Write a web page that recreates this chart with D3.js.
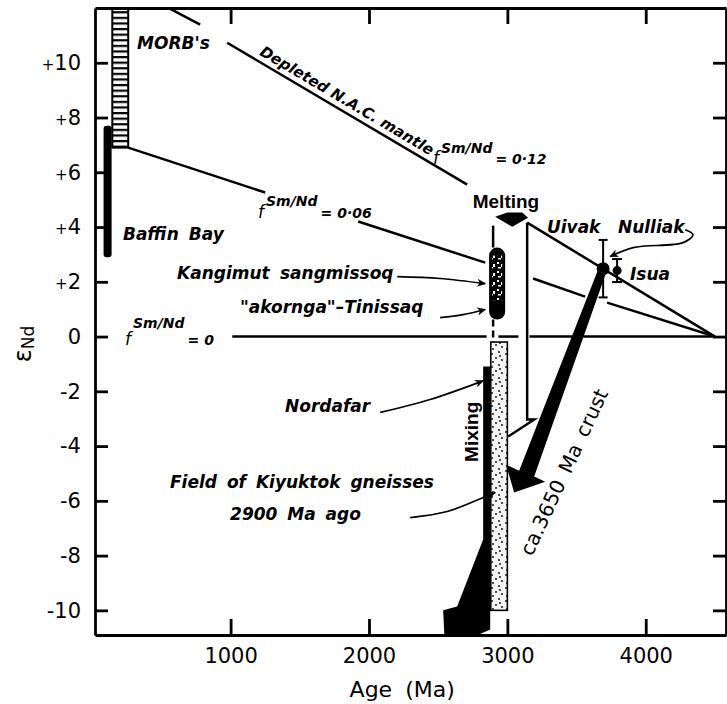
<!DOCTYPE html>
<html>
<head>
<meta charset="utf-8">
<script src="https://cdn.jsdelivr.net/npm/d3@7"></script>
<style>
  body { margin: 0; background: #fff; }
  svg { display: block; }
  .axis path, .axis line { stroke: #000; stroke-width: 2.8; }
  .axis text { font-family: "DejaVu Sans", sans-serif; font-size: 21px; fill: #000; }
  .lbl { font-family: "DejaVu Sans", sans-serif; font-style: oblique; font-weight: bold; font-size: 17px; fill: #000; }
  .upright { font-family: "Liberation Sans", sans-serif; font-weight: bold; font-size: 19px; fill: #000; }
  .evo { fill: none; stroke: #000; stroke-width: 2.5; }
  .leader { fill: none; stroke: #000; stroke-width: 1.7; }
</style>
</head>
<body>
<div id="chart"></div>
<script>
// ---- axis ticks ----
const ageTicks = [1000, 2000, 3000, 4000];
const ageTickLabels = ["1000", "2000", "3000", "4000"];
const endTicks = [10, 8, 6, 4, 2, 0, -2, -4, -6, -8, -10];
const endTickLabels = ["+10", "+8", "+6", "+4", "+2", "0", "-2", "-4", "-6", "-8", "-10"];

// ---- evolution lines, [age Ma, eNd], split where labels sit on them ----
const depletedMantle = [
    [[564, 11.97], [780, 11.39]],
    [[975, 10.73], [2710, 5.55]]
];
const smNd006 = [
    [[260, 6.9], [1250, 5.26]],
    [[1922, 4.2], [2840, 2.7]]
];
const smNd0 = [
    [[1012, 0], [2850, 0]],
    [[2935, 0], [3080, 0]],
    [[3160, 0], [4500, 0]]
];
const churUpper = [[[4500, 0], [3143, 4.16]]];
const churLower = [
    [[4500, 0], [3721, 1.24]],
    [[3562, 1.46], [3186, 2.12]]
];
const crustBracket = [[[3143, 4.16], [3143, -3.03], [3194, -3.03], [3006, -3.65]]];
const meltingSolid = [[2897, 4.05], [2897, 3.25]];
const meltingDashed = [[2897, 0.62], [2897, -0.2]];

// ---- fields (age range, eNd range) ----
const morbAge = [145, 260];
const morbEnd = [6.9, 12];
const baffinAge = [82, 140];
const baffinEnd = [2.9, 7.7];
const kangimutAge = [2868, 2984];
const kangimutEnd = [0.62, 3.25];
const kiyuktokAge = [2880, 3000];
const kiyuktokEnd = [-10, -0.2];

// ---- dated samples ----
const sampleNames = ["Uivak", "Isua"];
const sampleAge = [3692, 3793];
const sampleEnd = [2.48, 2.41];
const sampleErr = [1.05, 0.42];

// ---- process arrows ----
const meltingArrow = [[2912, 4.38], [2999, 4.53], [3107, 4.53], [3150, 4.34], [3035, 4.01]];
const crustArrow = [[3656, 2.45], [3714, 2.34], [3194, -5.11], [3273, -5.30], [3049, -5.70], [2991, -4.68], [3085, -4.90]];
const mixingArrow = [[2825, -1.09], [2876, -1.09], [2876, -10.7], [2550, -11.43], [2536, -10.0], [2637, -9.86], [2825, -7.41]];

// ---- leader curves ----
const leaders = [
    [[2204, 2.19], [2514, 2.12], [2840, 1.93]],
    [[2514, 0.69], [2680, 0.80], [2840, 0.99]],
    [[2081, -2.77], [2442, -2.30], [2825, -1.62]],
    [[2298, -6.61], [2565, -6.39], [2825, -5.88], [2912, -5.69]],
    [[4285, 3.90], [4342, 3.72], [4270, 3.43], [3909, 3.25], [3743, 2.92]]
];

function drawChart() {
    const width = 727;
    const height = 704;
    const margin = { top: 8, right: 1, bottom: 69, left: 95 };

    const svg = d3.select("#chart").append("svg")
        .attr("width", width)
        .attr("height", height);

    const x = d3.scaleLinear().domain([20, 4580]).range([margin.left, width - margin.right]);
    const y = d3.scaleLinear().domain([-10.9, 12]).range([height - margin.bottom, margin.top]);
    const line = d3.line().x(d => x(d[0])).y(d => y(d[1]));
    const curve = d3.line().x(d => x(d[0])).y(d => y(d[1])).curve(d3.curveCatmullRom);

    // Patterns and markers
    const defs = svg.append("defs");
    const hatch = defs.append("pattern").attr("id", "hatch")
        .attr("patternUnits", "userSpaceOnUse").attr("width", 10).attr("height", 5.6);
    hatch.append("rect").attr("width", 10).attr("height", 5.6).attr("fill", "#fff");
    hatch.append("rect").attr("width", 10).attr("height", 2.2).attr("fill", "#000");

    const stipple = defs.append("pattern").attr("id", "stipple")
        .attr("patternUnits", "userSpaceOnUse").attr("width", 14).attr("height", 13);
    stipple.append("rect").attr("width", 14).attr("height", 13).attr("fill", "#f4f4f4");
    [[2, 3], [9, 1], [6, 7], [12, 9], [3, 11], [10, 5]].forEach(p => {
        stipple.append("circle").attr("cx", p[0]).attr("cy", p[1]).attr("r", 0.9).attr("fill", "#000");
    });

    const speckle = defs.append("pattern").attr("id", "speckle")
        .attr("patternUnits", "userSpaceOnUse").attr("width", 8).attr("height", 9);
    speckle.append("rect").attr("width", 8).attr("height", 9).attr("fill", "#000");
    [[1, 1, 2, 2], [5, 3, 2, 3], [2, 6, 3, 1.5]].forEach(r => {
        speckle.append("rect").attr("x", r[0]).attr("y", r[1]).attr("width", r[2]).attr("height", r[3]).attr("fill", "#fff");
    });

    defs.append("marker").attr("id", "head")
        .attr("viewBox", "0 0 10 10").attr("refX", 9).attr("refY", 5)
        .attr("markerWidth", 10).attr("markerHeight", 9)
        .attr("markerUnits", "userSpaceOnUse").attr("orient", "auto")
        .append("path").attr("d", "M0,0.5 L10,5 L0,9.5 L3,5 Z").attr("fill", "#000");

    defs.append("clipPath").attr("id", "plotClip")
        .append("rect")
        .attr("x", margin.left).attr("y", margin.top)
        .attr("width", width - margin.left - margin.right)
        .attr("height", height - margin.top - margin.bottom);

    // Fields
    svg.append("rect")
        .attr("x", x(morbAge[0])).attr("y", y(morbEnd[1]))
        .attr("width", x(morbAge[1]) - x(morbAge[0]))
        .attr("height", y(morbEnd[0]) - y(morbEnd[1]))
        .attr("fill", "url(#hatch)").attr("stroke", "#000").attr("stroke-width", 2);

    svg.append("rect")
        .attr("x", x(baffinAge[0])).attr("y", y(baffinEnd[1]))
        .attr("width", x(baffinAge[1]) - x(baffinAge[0]))
        .attr("height", y(baffinEnd[0]) - y(baffinEnd[1]))
        .attr("rx", 3).attr("fill", "#000");

    // Evolution lines
    const lineSets = [depletedMantle, smNd006, smNd0, churUpper, churLower, crustBracket];
    lineSets.forEach(set => {
        svg.append("g").selectAll("path").data(set).join("path")
            .attr("class", "evo").attr("d", line);
    });
    svg.append("path").attr("class", "evo").attr("d", line(meltingSolid)).attr("stroke-width", 2);
    svg.append("path").attr("class", "evo").attr("d", line(meltingDashed))
        .attr("stroke-width", 2).attr("stroke-dasharray", "7,4");

    // Kiyuktok gneiss field
    svg.append("rect")
        .attr("x", x(kiyuktokAge[0])).attr("y", y(kiyuktokEnd[1]))
        .attr("width", x(kiyuktokAge[1]) - x(kiyuktokAge[0]))
        .attr("height", y(kiyuktokEnd[0]) - y(kiyuktokEnd[1]))
        .attr("fill", "url(#stipple)").attr("stroke", "#000").attr("stroke-width", 1.6);

    // Kangimut sangmissoq capsule
    const kx0 = x(kangimutAge[0]), kx1 = x(kangimutAge[1]);
    const ky0 = y(kangimutEnd[1]), ky1 = y(kangimutEnd[0]);
    svg.append("rect")
        .attr("x", kx0).attr("y", ky0).attr("width", kx1 - kx0).attr("height", ky1 - ky0)
        .attr("rx", (kx1 - kx0) / 2).attr("fill", "#000");
    svg.append("rect")
        .attr("x", kx0 + 3).attr("y", ky0 + 8).attr("width", kx1 - kx0 - 6).attr("height", (ky1 - ky0) * 0.62)
        .attr("fill", "url(#speckle)");

    // Arrows
    const poly = pts => "M" + pts.map(p => x(p[0]) + "," + y(p[1])).join("L") + "Z";
    svg.append("path").attr("d", poly(mixingArrow)).attr("fill", "#000").attr("clip-path", "url(#plotClip)");
    svg.append("path").attr("d", poly(meltingArrow)).attr("fill", "#000");
    svg.append("path").attr("d", poly(crustArrow)).attr("fill", "#000");

    // Samples with error bars
    sampleNames.forEach((name, i) => {
        const g = svg.append("g").attr("class", "sample");
        const cx = x(sampleAge[i]);
        const cap = i === 0 ? 4.5 : 5;
        g.append("line")
            .attr("x1", cx).attr("x2", cx)
            .attr("y1", y(sampleEnd[i] + sampleErr[i])).attr("y2", y(sampleEnd[i] - sampleErr[i]))
            .attr("stroke", "#000").attr("stroke-width", 2);
        [1, -1].forEach(s => {
            g.append("line")
                .attr("x1", cx - cap).attr("x2", cx + cap)
                .attr("y1", y(sampleEnd[i] + s * sampleErr[i])).attr("y2", y(sampleEnd[i] + s * sampleErr[i]))
                .attr("stroke", "#000").attr("stroke-width", 2);
        });
        g.append("circle")
            .attr("cx", cx).attr("cy", y(sampleEnd[i]))
            .attr("r", i === 0 ? 6.5 : 4.5).attr("fill", "#000");
    });

    // Leaders
    svg.append("g").selectAll("path").data(leaders).join("path")
        .attr("class", "leader").attr("d", curve).attr("marker-end", "url(#head)");

    // Italic labels
    const labels = [
        { t: "MORB's", a: 324, e: 10.5 },
        { t: "Baffin Bay", a: 222, e: 3.53 },
        { t: "Kangimut", a: 613, e: 2.1 },
        { t: "sangmissoq", a: 1357, e: 2.1 },
        { t: "\"akornga\"\u2013Tinissaq", a: 1068, e: 0.86 },
        { t: "Nordafar", a: 1393, e: -2.75 },
        { t: "Field of Kiyuktok gneisses", a: 562, e: -5.53 },
        { t: "2900 Ma ago", a: 996, e: -6.7 },
        { t: "Uivak", a: 3286, e: 3.78 },
        { t: "Nulliak", a: 3799, e: 3.78 },
        { t: "Isua", a: 3886, e: 2.07 }
    ];
    svg.append("g").selectAll("text").data(labels).join("text")
        .attr("class", "lbl")
        .attr("x", d => x(d.a)).attr("y", d => y(d.e))
        .attr("word-spacing", 4)
        .text(d => d.t);

    // Slanted mantle label
    const m0 = depletedMantle[1][0], m1 = depletedMantle[1][1];
    const ang = Math.atan2(y(m1[1]) - y(m0[1]), x(m1[0]) - x(m0[0])) * 180 / Math.PI;
    const mAge = 1800;
    const mEnd = m0[1] + (mAge - m0[0]) * (m1[1] - m0[1]) / (m1[0] - m0[0]);
    svg.append("text")
        .attr("class", "lbl").style("font-size", "15px")
        .attr("transform", `translate(${x(mAge)},${y(mEnd)}) rotate(${ang})`)
        .attr("y", -6).attr("text-anchor", "middle")
        .text("Depleted N.A.C. mantle");

    // f Sm/Nd labels
    const fLabels = [
        { a: 2462, e: 6.3, v: "0\u00b712", up: 11 },
        { a: 1198, e: 4.33, v: "0\u00b706", up: 12 },
        { a: 237, e: -0.31, v: "0", up: 17 }
    ];
    fLabels.forEach(d => {
        const t = svg.append("text").attr("class", "lbl")
            .attr("x", x(d.a)).attr("y", y(d.e));
        t.append("tspan").style("font-weight", "normal").style("font-size", "17px").text("f");
        t.append("tspan").attr("dx", 2).attr("dy", -d.up).style("font-size", "14px").text("Sm/Nd");
        t.append("tspan").attr("dx", 3).attr("dy", d.up).style("font-size", "14px").text("= " + d.v);
    });

    // Upright process labels
    svg.append("text").attr("class", "upright")
        .attr("x", x(2990)).attr("y", y(4.7)).attr("text-anchor", "middle")
        .text("Melting");
    svg.append("text").attr("class", "upright")
        .attr("transform", `translate(${x(2737)},${y(-3.48)}) rotate(-90)`)
        .attr("text-anchor", "middle").attr("dy", "0.35em")
        .text("Mixing");
    svg.append("text")
        .attr("transform", `translate(${x(3409)},${y(-4.95)}) rotate(-65)`)
        .attr("text-anchor", "middle").attr("dy", "0.35em")
        .style("font-family", "DejaVu Sans, sans-serif").style("font-size", "20px")
        .attr("word-spacing", 4)
        .text("ca.3650 Ma crust");

    // Axes
    svg.append("g").attr("class", "axis")
        .attr("transform", `translate(0,${height - margin.bottom})`)
        .call(d3.axisBottom(x).tickValues(ageTicks).tickFormat((d, i) => ageTickLabels[i])
            .tickSizeInner(-16).tickSizeOuter(0).tickPadding(13));
    const left = svg.append("g").attr("class", "axis")
        .attr("transform", `translate(${margin.left},0)`)
        .call(d3.axisLeft(y).tickValues(endTicks).tickFormat((d, i) => endTickLabels[i])
            .tickSizeInner(-13).tickSizeOuter(0).tickPadding(14));
    svg.append("g").attr("class", "axis")
        .attr("transform", `translate(0,${margin.top})`)
        .call(d3.axisTop(x).tickValues(ageTicks).tickFormat("").tickSizeInner(-16).tickSizeOuter(0));
    svg.append("g").attr("class", "axis")
        .attr("transform", `translate(${width - margin.right},0)`)
        .call(d3.axisRight(y).tickValues(endTicks).tickFormat("").tickSizeInner(-13).tickSizeOuter(0));

    left.selectAll(".tick text").each(function (d, i) {
        const label = endTickLabels[i];
        if (label[0] === "+") {
            const t = d3.select(this).text(null);
            t.append("tspan").style("font-size", "15px").text("+");
            t.append("tspan").text(label.slice(1));
        }
    });

    // Axis titles
    svg.append("text")
        .attr("x", x(2240)).attr("y", height - 7)
        .attr("text-anchor", "middle").attr("word-spacing", 6)
        .style("font-family", "DejaVu Sans, sans-serif").style("font-size", "22px")
        .text("Age (Ma)");

    const yt = svg.append("text")
        .attr("transform", `translate(31,344) rotate(-90)`)
        .attr("text-anchor", "middle")
        .style("font-family", "DejaVu Sans, sans-serif").style("font-size", "24px");
    yt.append("tspan").text("\u03b5");
    yt.append("tspan").attr("dy", 3).style("font-size", "17px").text("Nd");
}

drawChart();
</script>
</body>
</html>
